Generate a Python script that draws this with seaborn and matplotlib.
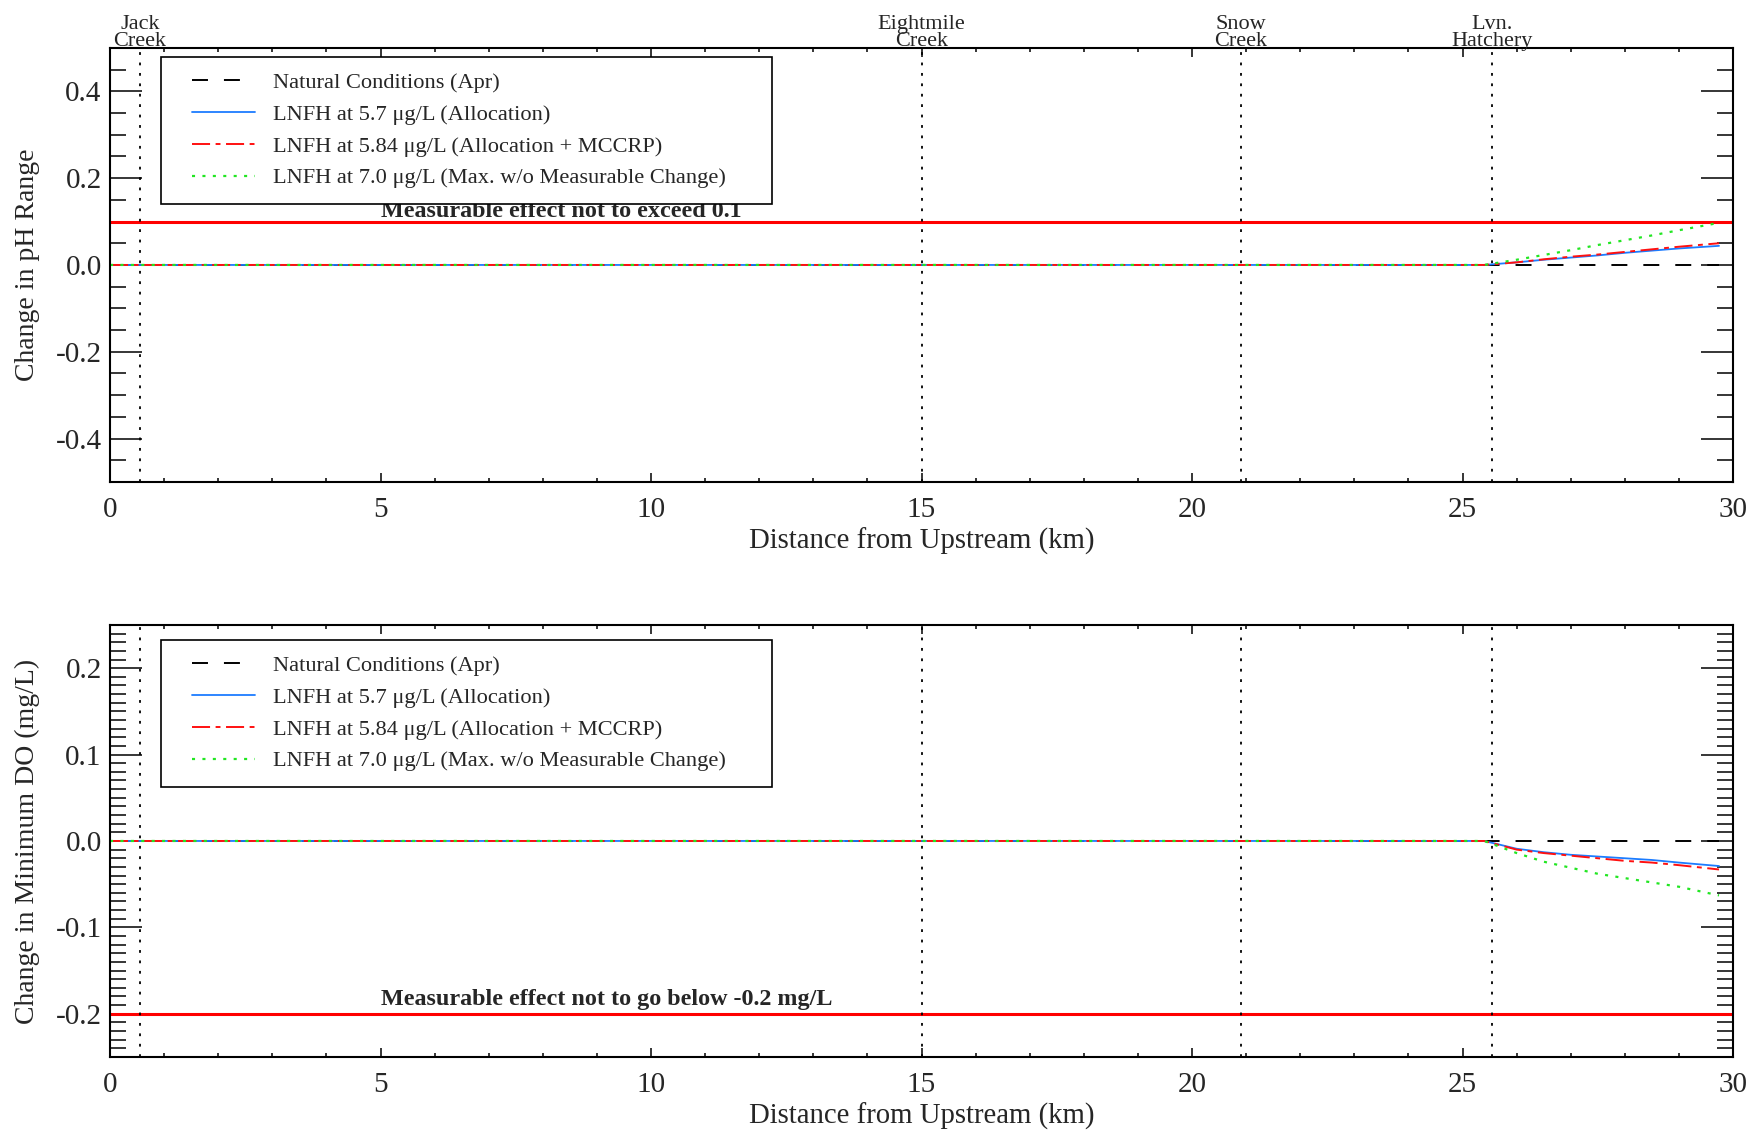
import numpy as np
import pandas as pd
import matplotlib
matplotlib.use("Agg")
import matplotlib.pyplot as plt
from matplotlib.ticker import MultipleLocator, FormatStrFormatter
from matplotlib.legend_handler import HandlerLine2D
from matplotlib.lines import Line2D
import matplotlib.transforms as mtransforms
import seaborn as sns

# ---- data ----
km = [0.0, 5.0, 10.0, 15.0, 20.0, 25.4, 26.0, 26.5, 27.0, 27.5, 28.0, 28.5, 29.0, 29.74]

ph_natural = [0, 0, 0, 0, 0, 0, 0, 0, 0, 0, 0, 0, 0, 0]
ph_alloc = [0, 0, 0, 0, 0, 0, 0.006, 0.012, 0.017, 0.022, 0.028, 0.033, 0.038, 0.044]
ph_mccrp = [0, 0, 0, 0, 0, 0, 0.006, 0.013, 0.019, 0.024, 0.030, 0.036, 0.042, 0.050]
ph_max = [0, 0, 0, 0, 0, 0, 0.012, 0.023, 0.034, 0.046, 0.057, 0.068, 0.080, 0.097]

do_natural = [0, 0, 0, 0, 0, 0, 0, 0, 0, 0, 0, 0, 0, 0]
do_alloc = [0, 0, 0, 0, 0, 0, -0.009, -0.013, -0.016, -0.018, -0.020, -0.022, -0.025, -0.029]
do_mccrp = [0, 0, 0, 0, 0, 0, -0.010, -0.014, -0.017, -0.020, -0.023, -0.025, -0.028, -0.033]
do_max = [0, 0, 0, 0, 0, 0, -0.014, -0.024, -0.031, -0.038, -0.043, -0.048, -0.053, -0.063]

series_labels = [
    "Natural Conditions (Apr)",
    "LNFH at 5.7 \u03bcg/L (Allocation)",
    "LNFH at 5.84 \u03bcg/L (Allocation + MCCRP)",
    "LNFH at 7.0 \u03bcg/L (Max. w/o Measurable Change)",
]

landmark_km = [0.55, 15.0, 20.9, 25.55]
landmark_names = ["Jack\nCreek", "Eightmile\nCreek", "Snow\nCreek", "Lvn.\nHatchery"]

ph_limit = 0.1
do_limit = -0.2
ph_limit_text = "Measurable effect not to exceed 0.1"
do_limit_text = "Measurable effect not to go below -0.2 mg/L"

# ---- style ----
sns.set_theme(style="ticks")
plt.rcParams["font.family"] = ["Liberation Serif", "DejaVu Serif"]
plt.rcParams["axes.unicode_minus"] = False
plt.rcParams["lines.scale_dashes"] = False

styles = [
    dict(color="black", linestyle=(0, (11.5, 11.5)), lw=1.4),
    dict(color="#1C7CFF", linestyle="-", lw=1.3),
    dict(color="#FF1010", linestyle=(0, (13, 4, 3.5, 4)), lw=1.4),
    dict(color="#22E622", linestyle=(0, (2.2, 5.3)), lw=1.6),
]

fig = plt.figure(figsize=(17.52, 11.33), dpi=100)
ax1 = fig.add_axes([0.0628, 0.5746, 0.9264, 0.3831])
ax2 = fig.add_axes([0.0628, 0.0671, 0.9264, 0.3813])


def draw_panel(ax, values, limit, limit_text, ylim, major, minor, ylabel,
               text_dy, legend_top):
    for vals, lab, st in zip(values, series_labels, styles):
        df = pd.DataFrame({"km": km, "val": vals})
        sns.lineplot(data=df, x="km", y="val", ax=ax, label=lab,
                     color=st["color"], linestyle=st["linestyle"], lw=st["lw"])
    ax.axhline(limit, color="#FF0000", lw=2.2, zorder=1)
    for xk in landmark_km:
        ax.axvline(xk, color="black", linestyle=(0, (2.0, 5.5)), lw=1.3, zorder=1)
    ax.text(5.0, limit + text_dy, limit_text, fontsize=17.4, fontweight="bold",
            ha="left", va="baseline")

    ax.set_xlim(0, 30)
    ax.set_ylim(*ylim)
    ax.xaxis.set_major_locator(MultipleLocator(5))
    ax.xaxis.set_minor_locator(MultipleLocator(1))
    ax.yaxis.set_major_locator(MultipleLocator(major))
    ax.yaxis.set_minor_locator(MultipleLocator(minor))
    ax.yaxis.set_major_formatter(FormatStrFormatter("%.1f"))
    ax.xaxis.set_major_formatter(FormatStrFormatter("%d"))
    ax.tick_params(axis="both", which="both", direction="in",
                   top=True, right=True, width=1.1, color="black")
    ax.tick_params(axis="x", which="major", length=6.5, pad=11, labelsize=21)
    ax.tick_params(axis="x", which="minor", length=3.2)
    ax.tick_params(axis="y", which="major", length=23, pad=6, labelsize=21)
    ax.tick_params(axis="y", which="minor", length=11.5)
    for sp in ax.spines.values():
        sp.set_visible(True)
        sp.set_linewidth(1.5)
        sp.set_color("black")
    ax.set_xlabel("Distance from Upstream (km)", fontsize=20.7, labelpad=3)
    ax.set_ylabel(ylabel, fontsize=20, labelpad=11)
    ax.set_facecolor("white")

    handles, labels = ax.get_legend_handles_labels()
    handler_map = {Line2D: HandlerLine2D(xpad=0.69)}
    leg = ax.legend(handles, labels, loc="upper left",
                    bbox_to_anchor=(0.0314, 0.0, 0.3765, legend_top),
                    mode="expand", borderaxespad=0, fontsize=16.1, frameon=True,
                    fancybox=False, handlelength=3.53, handletextpad=0.81,
                    labelspacing=0.5, borderpad=0.68, handler_map=handler_map)
    leg.get_frame().set_edgecolor("black")
    leg.get_frame().set_linewidth(1.2)
    leg.get_frame().set_alpha(1.0)


draw_panel(ax1, [ph_natural, ph_alloc, ph_mccrp, ph_max], ph_limit, ph_limit_text,
           (-0.5, 0.5), 0.2, 0.05, "Change in pH Range", 0.0115, 0.979)
draw_panel(ax2, [do_natural, do_alloc, do_mccrp, do_max], do_limit, do_limit_text,
           (-0.25, 0.25), 0.1, 0.01, "Change in Minimum DO (mg/L)", 0.010, 0.965)

# landmark names above the upper panel
trans = mtransforms.blended_transform_factory(ax1.transData, ax1.transAxes)
trans = trans + mtransforms.ScaledTranslation(0, 1.5 / 72, fig.dpi_scale_trans)
for xk, name in zip(landmark_km, landmark_names):
    ax1.text(xk, 1.0, name, transform=trans, ha="center", va="baseline",
             fontsize=16, linespacing=0.85)

fig.savefig("out.png", dpi=100, facecolor="white")
